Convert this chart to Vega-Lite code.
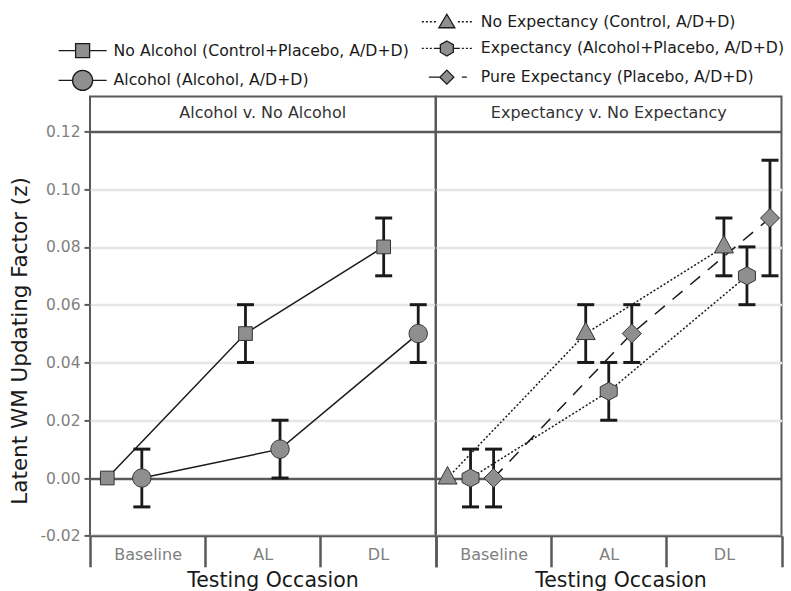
{
  "$schema": "https://vega.github.io/schema/vega-lite/v6.json",
  "padding": {"left": 8, "top": 9.4, "right": 0, "bottom": 0},
  "background": "white",
  "config": {
    "font": "DejaVu Sans",
    "view": {"stroke": "#595959", "strokeWidth": 2},
    "axis": {"labelFont": "DejaVu Sans", "titleFont": "DejaVu Sans", "titleFontWeight": "normal"},
    "legend": {"labelFont": "DejaVu Sans"}
  },
  "datasets": {
    "pts": [
      {"panel": "left", "series": "No Alcohol (Control+Placebo, A/D+D)", "occasion": "Baseline", "x": 0.875, "y": 0},
      {"panel": "left", "series": "No Alcohol (Control+Placebo, A/D+D)", "occasion": "AL", "x": 1.875, "y": 0.05, "lo": 0.04, "hi": 0.06},
      {"panel": "left", "series": "No Alcohol (Control+Placebo, A/D+D)", "occasion": "DL", "x": 2.875, "y": 0.08, "lo": 0.07, "hi": 0.09},
      {"panel": "left", "series": "Alcohol (Alcohol, A/D+D)", "occasion": "Baseline", "x": 1.125, "y": 0, "lo": -0.01, "hi": 0.01},
      {"panel": "left", "series": "Alcohol (Alcohol, A/D+D)", "occasion": "AL", "x": 2.125, "y": 0.01, "lo": 0, "hi": 0.02},
      {"panel": "left", "series": "Alcohol (Alcohol, A/D+D)", "occasion": "DL", "x": 3.125, "y": 0.05, "lo": 0.04, "hi": 0.06},
      {"panel": "right", "series": "No Expectancy (Control, A/D+D)", "occasion": "Baseline", "x": 0.8333, "y": 0},
      {"panel": "right", "series": "No Expectancy (Control, A/D+D)", "occasion": "AL", "x": 1.8333, "y": 0.05, "lo": 0.04, "hi": 0.06},
      {"panel": "right", "series": "No Expectancy (Control, A/D+D)", "occasion": "DL", "x": 2.8333, "y": 0.08, "lo": 0.07, "hi": 0.09},
      {"panel": "right", "series": "Expectancy (Alcohol+Placebo, A/D+D)", "occasion": "Baseline", "x": 1.0, "y": 0, "lo": -0.01, "hi": 0.01},
      {"panel": "right", "series": "Expectancy (Alcohol+Placebo, A/D+D)", "occasion": "AL", "x": 2.0, "y": 0.03, "lo": 0.02, "hi": 0.04},
      {"panel": "right", "series": "Expectancy (Alcohol+Placebo, A/D+D)", "occasion": "DL", "x": 3.0, "y": 0.07, "lo": 0.06, "hi": 0.08},
      {"panel": "right", "series": "Pure Expectancy (Placebo, A/D+D)", "occasion": "Baseline", "x": 1.1667, "y": 0, "lo": -0.01, "hi": 0.01},
      {"panel": "right", "series": "Pure Expectancy (Placebo, A/D+D)", "occasion": "AL", "x": 2.1667, "y": 0.05, "lo": 0.04, "hi": 0.06},
      {"panel": "right", "series": "Pure Expectancy (Placebo, A/D+D)", "occasion": "DL", "x": 3.1667, "y": 0.09, "lo": 0.07, "hi": 0.11}
    ]
  },
  "spacing": 0,
  "bounds": "flush",
  "resolve": {"scale": {"shape": "independent", "fill": "independent", "stroke": "independent"}, "legend": {"shape": "independent", "fill": "independent", "stroke": "independent"}},
  "hconcat": [
    {
      "width": 345.5,
      "height": 439.4,
      "data": {"name": "pts"},
      "transform": [{"filter": "datum.panel == 'left'"}],
      "layer": [
        {
          "mark": {"type": "line", "color": "#1a1a1a", "strokeWidth": 1.5},
          "encoding": {
            "x": {"field": "x", "type": "quantitative", "scale": {"domain": [0.75, 3.25], "nice": false, "zero": false},
              "axis": {"values": [0.75, 1.5833333, 2.4166667, 3.25],
                "labelExpr": "datum.value < 1 ? 'Baseline' : datum.value < 2 ? 'AL' : datum.value < 3 ? 'DL' : ''",
                "labelOffset": 57.6, "labelFontSize": 16, "labelColor": "#808080", "labelPadding": -20,
                "labelFlush": false, "labelOverlap": false, "labelBaseline": "top",
                "tickSize": 31, "tickWidth": 2.5, "tickColor": "#595959",
                "domainColor": "#595959", "domainWidth": 2, "grid": false,
                "title": "Testing Occasion", "titleFontSize": 20.5, "titleColor": "#1a1a1a", "titlePadding": 2, "titleX": 182.5}},
            "y": {"field": "y", "type": "quantitative", "scale": {"domain": [-0.02, 0.1321], "nice": false, "zero": false},
              "axis": {"values": [-0.02, -0.01, 0, 0.01, 0.02, 0.03, 0.04, 0.05, 0.06, 0.07, 0.08, 0.09, 0.1, 0.11, 0.12],
                "labelExpr": "round(datum.value * 100) % 2 == 0 ? (datum.value < -0.0001 ? '-' : '') + format(abs(datum.value), '.2f') : ''",
                "labelFontSize": 15.5, "labelColor": "#7f7f7f", "labelPadding": 4, "labelOverlap": false,
                "tickSize": 6, "tickWidth": 2, "tickColor": "#595959",
                "tickOpacity": {"condition": {"test": "round(datum.value * 100) % 2 != 0", "value": 0}, "value": 1},
                "domain": false, "grid": true,
                "gridColor": {"condition": [{"test": "abs(datum.value) < 0.0001 || abs(datum.value - 0.12) < 0.0001", "value": "#595959"}, {"test": "round(datum.value * 100) % 2 != 0", "value": "#efefef"}], "value": "#e6e6e6"},
                "gridWidth": {"condition": [{"test": "abs(datum.value) < 0.0001 || abs(datum.value - 0.12) < 0.0001", "value": 2.5}, {"test": "round(datum.value * 100) % 2 != 0", "value": 1.2}], "value": 2.5},
                "title": "Latent WM Updating Factor (z)", "titleFontSize": 21.5, "titleColor": "#1a1a1a", "titlePadding": 8, "titleY": 244}},
            "detail": {"field": "series"}
          }
        },
        {
          "mark": {"type": "rule", "color": "#1a1a1a", "strokeWidth": 2.8},
          "encoding": {"x": {"field": "x", "type": "quantitative"}, "y": {"field": "lo", "type": "quantitative"}, "y2": {"field": "hi"}}
        },
        {
          "mark": {"type": "tick", "orient": "horizontal", "color": "#1a1a1a", "size": 17, "thickness": 3, "opacity": 1},
          "encoding": {"x": {"field": "x", "type": "quantitative"}, "y": {"field": "lo", "type": "quantitative"}}
        },
        {
          "mark": {"type": "tick", "orient": "horizontal", "color": "#1a1a1a", "size": 17, "thickness": 3, "opacity": 1},
          "encoding": {"x": {"field": "x", "type": "quantitative"}, "y": {"field": "hi", "type": "quantitative"}}
        },
        {
          "transform": [{"filter": "datum.series == 'No Alcohol (Control+Placebo, A/D+D)'"}],
          "mark": {"type": "point", "shape": "M-0.685,-0.685L0.685,-0.685L0.685,0.685L-0.685,0.685Z", "filled": true, "fill": "#8f8f8f", "stroke": "#333333", "strokeWidth": 1, "opacity": 1, "size": 400},
          "encoding": {"x": {"field": "x", "type": "quantitative"}, "y": {"field": "y", "type": "quantitative"}}
        },
        {
          "transform": [{"filter": "datum.series == 'Alcohol (Alcohol, A/D+D)'"}],
          "mark": {"type": "point", "shape": "M-0.915,0A0.915,0.915,0,1,1,0.915,0A0.915,0.915,0,1,1,-0.915,0Z", "filled": true, "fill": "#8f8f8f", "stroke": "#333333", "strokeWidth": 1, "opacity": 1, "size": 400},
          "encoding": {"x": {"field": "x", "type": "quantitative"}, "y": {"field": "y", "type": "quantitative"}}
        },
        {
          "mark": {"type": "point", "strokeWidth": 1.3, "opacity": 0, "size": 400},
          "encoding": {
            "x": {"field": "x", "type": "quantitative"},
            "y": {"field": "y", "type": "quantitative"},
            "shape": {"field": "series", "type": "nominal",
              "scale": {"domain": ["No Alcohol (Control+Placebo, A/D+D)", "Alcohol (Alcohol, A/D+D)"],
                "range": ["M-2.4,0L-0.7,0M0.7,0L2.4,0M-0.7,-0.7L0.7,-0.7L0.7,0.7L-0.7,0.7Z", "M-2.4,0L-1,0M1,0L2.4,0M-1,0A1,1,0,1,1,1,0A1,1,0,1,1,-1,0Z"]},
              "legend": {"orient": "none", "legendX": -18.4, "legendY": -56.7, "title": null, "direction": "vertical",
                "symbolSize": 400, "symbolOpacity": 1, "symbolFillColor": "#8f8f8f", "symbolStrokeColor": "#1a1a1a", "symbolStrokeWidth": 1.3,
                "labelFontSize": 15.7, "labelColor": "#1a1a1a", "labelOffset": 20, "labelLimit": 0, "rowPadding": 6.7, "padding": 0}},
            "fill": {"field": "series", "type": "nominal",
              "scale": {"domain": ["No Alcohol (Control+Placebo, A/D+D)", "Alcohol (Alcohol, A/D+D)"], "range": ["#8f8f8f", "#8f8f8f"]},
              "legend": {"orient": "none", "legendX": -18.4, "legendY": -56.7, "title": null, "direction": "vertical",
                "symbolSize": 400, "symbolOpacity": 1, "symbolFillColor": "#8f8f8f", "symbolStrokeColor": "#1a1a1a", "symbolStrokeWidth": 1.3,
                "labelFontSize": 15.7, "labelColor": "#1a1a1a", "labelOffset": 20, "labelLimit": 0, "rowPadding": 6.7, "padding": 0}},
            "stroke": {"field": "series", "type": "nominal",
              "scale": {"domain": ["No Alcohol (Control+Placebo, A/D+D)", "Alcohol (Alcohol, A/D+D)"], "range": ["#1a1a1a", "#1a1a1a"]},
              "legend": {"orient": "none", "legendX": -18.4, "legendY": -56.7, "title": null, "direction": "vertical",
                "symbolSize": 400, "symbolOpacity": 1, "symbolFillColor": "#8f8f8f", "symbolStrokeColor": "#1a1a1a", "symbolStrokeWidth": 1.3,
                "labelFontSize": 15.7, "labelColor": "#1a1a1a", "labelOffset": 20, "labelLimit": 0, "rowPadding": 6.7, "padding": 0}}
          }
        },
        {
          "data": {"values": [{"strip": "Alcohol v. No Alcohol"}]},
          "mark": {"type": "text", "fontSize": 16, "color": "#333333", "align": "center", "baseline": "middle", "font": "DejaVu Sans"},
          "encoding": {
            "x": {"datum": 2, "type": "quantitative"},
            "y": {"datum": 0.1262, "type": "quantitative"},
            "text": {"field": "strip"}
          }
        }
      ]
    },
    {
      "width": 345.5,
      "height": 439.4,
      "data": {"name": "pts"},
      "transform": [{"filter": "datum.panel == 'right'"}],
      "layer": [
        {
          "transform": [{"filter": "datum.series != 'Pure Expectancy (Placebo, A/D+D)'"}],
          "mark": {"type": "line", "color": "#1a1a1a", "strokeWidth": 1.5, "strokeDash": [2, 2]},
          "encoding": {
            "x": {"field": "x", "type": "quantitative", "scale": {"domain": [0.75, 3.25], "nice": false, "zero": false},
              "axis": {"values": [0.75, 1.5833333, 2.4166667, 3.25],
                "labelExpr": "datum.value < 1 ? 'Baseline' : datum.value < 2 ? 'AL' : datum.value < 3 ? 'DL' : ''",
                "labelOffset": 57.6, "labelFontSize": 16, "labelColor": "#808080", "labelPadding": -20,
                "labelFlush": false, "labelOverlap": false, "labelBaseline": "top",
                "tickSize": 31, "tickWidth": 2.5, "tickColor": "#595959",
                "domainColor": "#595959", "domainWidth": 2, "grid": false,
                "title": "Testing Occasion", "titleFontSize": 20.5, "titleColor": "#1a1a1a", "titlePadding": 2, "titleX": 184.5}},
            "y": {"field": "y", "type": "quantitative", "scale": {"domain": [-0.02, 0.1321], "nice": false, "zero": false},
              "axis": {"values": [-0.02, -0.01, 0, 0.01, 0.02, 0.03, 0.04, 0.05, 0.06, 0.07, 0.08, 0.09, 0.1, 0.11, 0.12],
                "labels": false, "ticks": false, "domain": false, "grid": true, "title": null,
                "gridColor": {"condition": [{"test": "abs(datum.value) < 0.0001 || abs(datum.value - 0.12) < 0.0001", "value": "#595959"}, {"test": "round(datum.value * 100) % 2 != 0", "value": "#efefef"}], "value": "#e6e6e6"},
                "gridWidth": {"condition": [{"test": "abs(datum.value) < 0.0001 || abs(datum.value - 0.12) < 0.0001", "value": 2.5}, {"test": "round(datum.value * 100) % 2 != 0", "value": 1.2}], "value": 2.5}}},
            "detail": {"field": "series"}
          }
        },
        {
          "transform": [{"filter": "datum.series == 'Pure Expectancy (Placebo, A/D+D)'"}],
          "mark": {"type": "line", "color": "#1a1a1a", "strokeWidth": 1.5, "strokeDash": [13, 10]},
          "encoding": {"x": {"field": "x", "type": "quantitative"}, "y": {"field": "y", "type": "quantitative"}}
        },
        {
          "mark": {"type": "rule", "color": "#1a1a1a", "strokeWidth": 2.8},
          "encoding": {"x": {"field": "x", "type": "quantitative"}, "y": {"field": "lo", "type": "quantitative"}, "y2": {"field": "hi"}}
        },
        {
          "mark": {"type": "tick", "orient": "horizontal", "color": "#1a1a1a", "size": 17, "thickness": 3, "opacity": 1},
          "encoding": {"x": {"field": "x", "type": "quantitative"}, "y": {"field": "lo", "type": "quantitative"}}
        },
        {
          "mark": {"type": "tick", "orient": "horizontal", "color": "#1a1a1a", "size": 17, "thickness": 3, "opacity": 1},
          "encoding": {"x": {"field": "x", "type": "quantitative"}, "y": {"field": "hi", "type": "quantitative"}}
        },
        {
          "transform": [{"filter": "datum.series == 'No Expectancy (Control, A/D+D)'"}],
          "mark": {"type": "point", "shape": "M0,-1.15L0.95,0.6L-0.95,0.6Z", "filled": true, "fill": "#8f8f8f", "stroke": "#333333", "strokeWidth": 1, "opacity": 1, "size": 400},
          "encoding": {"x": {"field": "x", "type": "quantitative"}, "y": {"field": "y", "type": "quantitative"}}
        },
        {
          "transform": [{"filter": "datum.series == 'Expectancy (Alcohol+Placebo, A/D+D)'"}],
          "mark": {"type": "point", "shape": "M0,-0.9L0.85,-0.45L0.85,0.45L0,0.9L-0.85,0.45L-0.85,-0.45Z", "filled": true, "fill": "#8f8f8f", "stroke": "#333333", "strokeWidth": 1, "opacity": 1, "size": 400},
          "encoding": {"x": {"field": "x", "type": "quantitative"}, "y": {"field": "y", "type": "quantitative"}}
        },
        {
          "transform": [{"filter": "datum.series == 'Pure Expectancy (Placebo, A/D+D)'"}],
          "mark": {"type": "point", "shape": "M0,-0.95L0.95,0L0,0.95L-0.95,0Z", "filled": true, "fill": "#8f8f8f", "stroke": "#333333", "strokeWidth": 1, "opacity": 1, "size": 400},
          "encoding": {"x": {"field": "x", "type": "quantitative"}, "y": {"field": "y", "type": "quantitative"}}
        },
        {
          "mark": {"type": "point", "strokeWidth": 1.3, "opacity": 0, "size": 400},
          "encoding": {
            "x": {"field": "x", "type": "quantitative"},
            "y": {"field": "y", "type": "quantitative"},
            "shape": {"field": "series", "type": "nominal",
              "scale": {"domain": ["No Expectancy (Control, A/D+D)", "Expectancy (Alcohol+Placebo, A/D+D)", "Pure Expectancy (Placebo, A/D+D)"],
                "range": [
                  "M-2.5,0L-2.3,0M-2.1,0L-1.9,0M-1.7,0L-1.5,0M-1.3,0L-1.1,0M1.1,0L1.3,0M1.5,0L1.7,0M1.9,0L2.1,0M2.3,0L2.5,0M0,-0.75L0.8,0.6L-0.8,0.6Z",
                  "M-2.5,0L-2.3,0M-2.1,0L-1.9,0M-1.7,0L-1.5,0M-1.3,0L-0.65,0M0.65,0L1.3,0M1.5,0L1.7,0M1.9,0L2.1,0M2.3,0L2.5,0M0,-0.75L0.65,-0.375L0.65,0.375L0,0.75L-0.65,0.375L-0.65,-0.375Z",
                  "M-1.8,0L-0.7,0M1.5,0L2,0M0,-0.7L0.7,0L0,0.7L-0.7,0Z"]},
              "legend": {"orient": "none", "legendX": -0.15, "legendY": -85.65, "title": null, "direction": "vertical",
                "symbolSize": 400, "symbolOpacity": 1, "symbolFillColor": "#8f8f8f", "symbolStrokeColor": "#1a1a1a", "symbolStrokeWidth": 1.3,
                "labelFontSize": 15.7, "labelColor": "#1a1a1a", "labelOffset": 23, "labelLimit": 0, "rowPadding": 6.7, "padding": 0}},
            "fill": {"field": "series", "type": "nominal",
              "scale": {"domain": ["No Expectancy (Control, A/D+D)", "Expectancy (Alcohol+Placebo, A/D+D)", "Pure Expectancy (Placebo, A/D+D)"], "range": ["#8f8f8f", "#8f8f8f", "#8f8f8f"]},
              "legend": {"orient": "none", "legendX": -0.15, "legendY": -85.65, "title": null, "direction": "vertical",
                "symbolSize": 400, "symbolOpacity": 1, "symbolFillColor": "#8f8f8f", "symbolStrokeColor": "#1a1a1a", "symbolStrokeWidth": 1.3,
                "labelFontSize": 15.7, "labelColor": "#1a1a1a", "labelOffset": 23, "labelLimit": 0, "rowPadding": 6.7, "padding": 0}},
            "stroke": {"field": "series", "type": "nominal",
              "scale": {"domain": ["No Expectancy (Control, A/D+D)", "Expectancy (Alcohol+Placebo, A/D+D)", "Pure Expectancy (Placebo, A/D+D)"], "range": ["#1a1a1a", "#1a1a1a", "#1a1a1a"]},
              "legend": {"orient": "none", "legendX": -0.15, "legendY": -85.65, "title": null, "direction": "vertical",
                "symbolSize": 400, "symbolOpacity": 1, "symbolFillColor": "#8f8f8f", "symbolStrokeColor": "#1a1a1a", "symbolStrokeWidth": 1.3,
                "labelFontSize": 15.7, "labelColor": "#1a1a1a", "labelOffset": 23, "labelLimit": 0, "rowPadding": 6.7, "padding": 0}}
          }
        },
        {
          "data": {"values": [{"strip": "Expectancy v. No Expectancy"}]},
          "mark": {"type": "text", "fontSize": 16, "color": "#333333", "align": "center", "baseline": "middle", "font": "DejaVu Sans"},
          "encoding": {
            "x": {"datum": 2, "type": "quantitative"},
            "y": {"datum": 0.1262, "type": "quantitative"},
            "text": {"field": "strip"}
          }
        }
      ]
    }
  ]
}
